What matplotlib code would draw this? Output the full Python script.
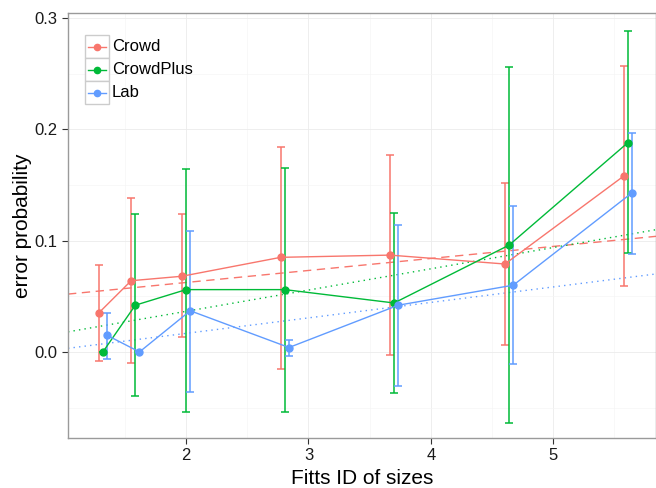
import numpy as np
import matplotlib
matplotlib.use('Agg')
import matplotlib.pyplot as plt
from matplotlib.patches import Rectangle
from matplotlib.lines import Line2D

plt.rcParams['font.family'] = ['Liberation Sans', 'DejaVu Sans']

groups = ['Crowd', 'CrowdPlus', 'Lab']
colors = ['#F8766D', '#00BA38', '#619CFF']
fitts_id = [1.32, 1.585, 2.0, 2.807, 3.70, 4.64, 5.61]
dodge = [-0.034, 0.0, 0.034]

crowd_y = [0.035, 0.064, 0.068, 0.085, 0.087, 0.079, 0.158]
crowd_lo = [-0.008, -0.010, 0.013, -0.015, -0.003, 0.006, 0.059]
crowd_hi = [0.078, 0.138, 0.124, 0.184, 0.177, 0.152, 0.257]

plus_y = [0.0, 0.042, 0.056, 0.056, 0.044, 0.096, 0.188]
plus_lo = [0.0, -0.040, -0.054, -0.054, -0.037, -0.064, 0.089]
plus_hi = [0.0, 0.124, 0.164, 0.165, 0.125, 0.256, 0.288]

lab_y = [0.015, 0.0, 0.037, 0.004, 0.042, 0.060, 0.143]
lab_lo = [-0.006, 0.0, -0.036, -0.004, -0.031, -0.011, 0.088]
lab_hi = [0.035, 0.0, 0.109, 0.011, 0.114, 0.131, 0.197]

# linear fits (intercept, slope)
fit_icpt = [0.0408, -0.0017, -0.0111]
fit_slope = [0.0108, 0.0191, 0.0139]
fit_style = [(0, (6, 4)), (0, (1, 3)), (0, (1, 3))]

ys = [crowd_y, plus_y, lab_y]
los = [crowd_lo, plus_lo, lab_lo]
his = [crowd_hi, plus_hi, lab_hi]

fig = plt.figure(figsize=(6.56, 4.88), dpi=100)
ax = fig.add_axes([68/656, 50/488, 1 - 68/656, (438-13)/488])

xmin, xmax = 1.035, 5.84
ax.set_xlim(xmin, xmax)
ax.set_ylim(-0.0773, 0.3045)

xs_fit = np.array([xmin, xmax])
for i in range(3):
    x = np.array(fitts_id) + dodge[i]
    y = np.array(ys[i])
    err = [y - np.array(los[i]), np.array(his[i]) - y]
    ax.errorbar(x, y, yerr=err, fmt='none', ecolor=colors[i], elinewidth=1.1,
                capsize=3, capthick=1.1, zorder=3)
    ax.plot(x, y, color=colors[i], lw=1.0, marker='o', ms=5, zorder=4)
    ax.plot(xs_fit, fit_icpt[i] + fit_slope[i] * xs_fit, color=colors[i], lw=1.0,
            linestyle=fit_style[i], zorder=2)

ax.set_xticks([2, 3, 4, 5])
ax.set_xticks([1.5, 2.5, 3.5, 4.5, 5.5], minor=True)
ax.set_yticks([0.0, 0.1, 0.2, 0.3])
ax.set_yticks([-0.05, 0.05, 0.15, 0.25], minor=True)
ax.set_yticklabels(['0.0', '0.1', '0.2', '0.3'])
ax.grid(which='major', color='#ebebeb', lw=0.6)
ax.grid(which='minor', color='#f5f5f5', lw=0.5)
ax.set_axisbelow(True)
ax.tick_params(which='minor', length=0)
ax.tick_params(which='major', length=4, width=0.8, color='#333333',
               labelsize=12, labelcolor='#1a1a1a')
for s in ax.spines.values():
    s.set_color('#9a9a9a')
    s.set_linewidth(1.0)
ax.set_xlabel('Fitts ID of sizes', fontsize=15, labelpad=4)
ax.set_ylabel('error probability', fontsize=15, labelpad=2)

# title sits above the visible canvas, only its descenders show
fig.text(0.5, 1 + 3.5/488, 'Error probability as a function of Fitts ID of the target sizes, by shape',
         ha='center', va='baseline', fontsize=15)

# legend drawn ggplot-style with boxed keys
for i, g in enumerate(groups):
    top = 35 + 23 * i
    x0, x1 = 85, 109
    yc = 488 - (top + 11.5)
    fig.add_artist(Rectangle((x0, 488 - top - 23), x1 - x0, 23, transform=None,
                             facecolor='white', edgecolor='#cccccc', lw=1.0))
    fig.add_artist(Line2D([x0 + 3, x1 - 3], [yc, yc], transform=None,
                          color=colors[i], lw=1.0))
    fig.add_artist(Line2D([(x0 + x1) / 2], [yc], transform=None, color=colors[i],
                          marker='o', ms=4.5))
    fig.text(112 / 656, yc / 488, g, ha='left', va='center', fontsize=12)

fig.savefig('out.png', dpi=100)
